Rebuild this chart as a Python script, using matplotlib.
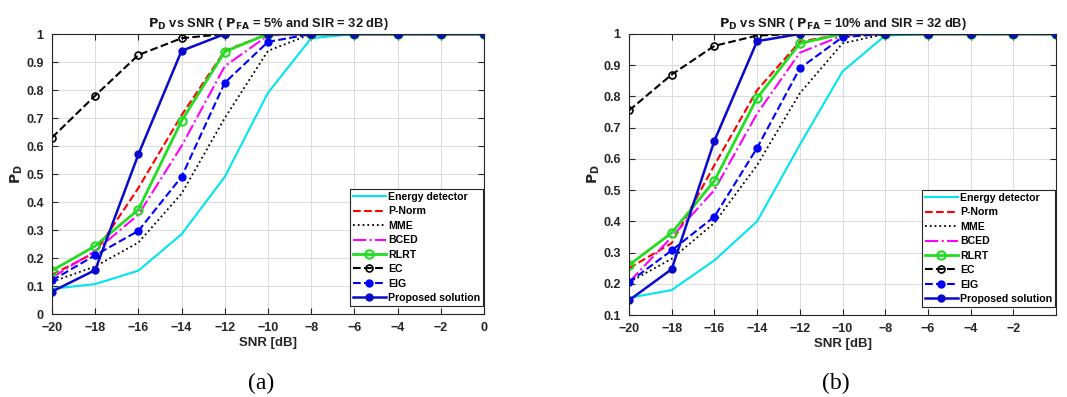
import matplotlib
matplotlib.use("Agg")
import matplotlib.pyplot as plt
import numpy as np

plt.rcParams['font.family'] = ['Liberation Sans', 'DejaVu Sans']
plt.rcParams['font.weight'] = 'bold'

snr = [-20, -18, -16, -14, -12, -10, -8, -6, -4, -2, 0]
names = ['Energy detector', 'P-Norm', 'MME', 'BCED', 'RLRT', 'EC', 'EIG', 'Proposed solution']

# (a) PFA = 5%
ed_a = [0.09, 0.107, 0.155, 0.285, 0.49, 0.79, 0.985, 1, 1, 1, 1]
pnorm_a = [0.14, 0.22, 0.45, 0.71, 0.94, 1.0, 1, 1, 1, 1, 1]
mme_a = [0.115, 0.17, 0.255, 0.43, 0.70, 0.94, 1.0, 1, 1, 1, 1]
bced_a = [0.13, 0.225, 0.355, 0.60, 0.885, 0.995, 1, 1, 1, 1, 1]
rlrt_a = [0.155, 0.243, 0.373, 0.69, 0.937, 1.0, 1, 1, 1, 1, 1]
ec_a = [0.63, 0.78, 0.925, 0.985, 1.0, 1, 1, 1, 1, 1, 1]
eig_a = [0.12, 0.21, 0.297, 0.49, 0.826, 0.972, 1.0, 1, 1, 1, 1]
prop_a = [0.08, 0.157, 0.57, 0.94, 1.0, 1, 1, 1, 1, 1, 1]

# (b) PFA = 10%
ed_b = [0.155, 0.18, 0.275, 0.40, 0.645, 0.88, 0.995, 1, 1, 1, 1]
pnorm_b = [0.25, 0.33, 0.58, 0.82, 0.975, 1.0, 1, 1, 1, 1, 1]
mme_b = [0.205, 0.28, 0.395, 0.58, 0.81, 0.97, 1.0, 1, 1, 1, 1]
bced_b = [0.205, 0.35, 0.50, 0.745, 0.94, 0.995, 1, 1, 1, 1, 1]
rlrt_b = [0.26, 0.363, 0.53, 0.795, 0.97, 1.0, 1, 1, 1, 1, 1]
ec_b = [0.755, 0.87, 0.962, 0.995, 1.0, 1, 1, 1, 1, 1, 1]
eig_b = [0.205, 0.307, 0.415, 0.635, 0.89, 0.99, 1.0, 1, 1, 1, 1]
prop_b = [0.147, 0.247, 0.658, 0.977, 1.0, 1, 1, 1, 1, 1, 1]

styles = [
    dict(color='#00e5ee', ls='-', lw=1.5),
    dict(color='#ff0000', ls='--', lw=1.5),
    dict(color='black', ls=':', lw=1.3),
    dict(color='#ff00ff', ls='-.', lw=1.5),
    dict(color='#22dd22', ls='-', lw=2, marker='o', ms=6, mfc='none', mew=1.5),
    dict(color='black', ls='--', lw=1.5, marker='o', ms=5, mfc='none', mew=1.2),
    dict(color='#0000ff', ls='--', lw=1.5, marker='o', ms=5, mfc='#0000ff'),
    dict(color='#0a0acd', ls='-', lw=1.8, marker='o', ms=5, mfc='#0a0acd'),
]

fig = plt.figure(figsize=(10.67, 3.97), dpi=100)


def panel(rect, series, pfa, ylim, yticks, label, xticks):
    ax = fig.add_axes(rect)
    for name, vals, st in zip(names, series, styles):
        ax.plot(snr, vals, label=name, **st)
    ax.set_xlim(-20, 0)
    ax.set_ylim(*ylim)
    ax.set_xticks(xticks)
    ax.set_yticks(yticks)
    ax.set_yticklabels(['%g' % t for t in yticks])
    ax.grid(True, color='#dddddd', lw=0.8)
    ax.tick_params(direction='in', labelsize=9, colors='#262626', length=4,
                   top=True, right=True, pad=6)
    for s in ax.spines.values():
        s.set_color('#262626')
        s.set_linewidth(0.8)
    ax.set_title(r'$\mathbf{P_D}$ vs SNR ( $\mathbf{P_{FA}}$ = %s and SIR = 32 dB)' % pfa,
                 fontsize=9.3, fontweight='bold', color='#1a1a1a', pad=5)
    ax.set_xlabel('SNR [dB]', fontsize=9.5, fontweight='bold', color='#262626', labelpad=2)
    ax.set_ylabel(r'$\mathbf{P_D}$', fontsize=10, color='#262626', labelpad=1)
    leg = ax.legend(loc='lower right', bbox_to_anchor=(0.998, 0.028), borderaxespad=0,
                    fontsize=7.6, handlelength=3.1, handletextpad=0.2,
                    borderpad=0.3, labelspacing=0.42, fancybox=False, framealpha=1,
                    edgecolor='#262626')
    leg.get_frame().set_linewidth(0.8)
    fig.text(rect[0] + rect[2] / 2 - 0.006, 0.008, label, ha='center', va='bottom',
             fontsize=17, family='Liberation Serif', fontweight='normal')
    return ax


panel([0.0487, 0.209, 0.4049, 0.7053],
      [ed_a, pnorm_a, mme_a, bced_a, rlrt_a, ec_a, eig_a, prop_a],
      '5%', (0, 1), np.round(np.arange(0, 1.01, 0.1), 1), '(a)',
      [-20, -18, -16, -14, -12, -10, -8, -6, -4, -2, 0])
panel([0.5895, 0.2065, 0.4002, 0.7079],
      [ed_b, pnorm_b, mme_b, bced_b, rlrt_b, ec_b, eig_b, prop_b],
      '10%', (0.1, 1), np.round(np.arange(0.1, 1.01, 0.1), 1), '(b)',
      [-20, -18, -16, -14, -12, -10, -8, -6, -4, -2])

fig.savefig('out.png', dpi=100)
